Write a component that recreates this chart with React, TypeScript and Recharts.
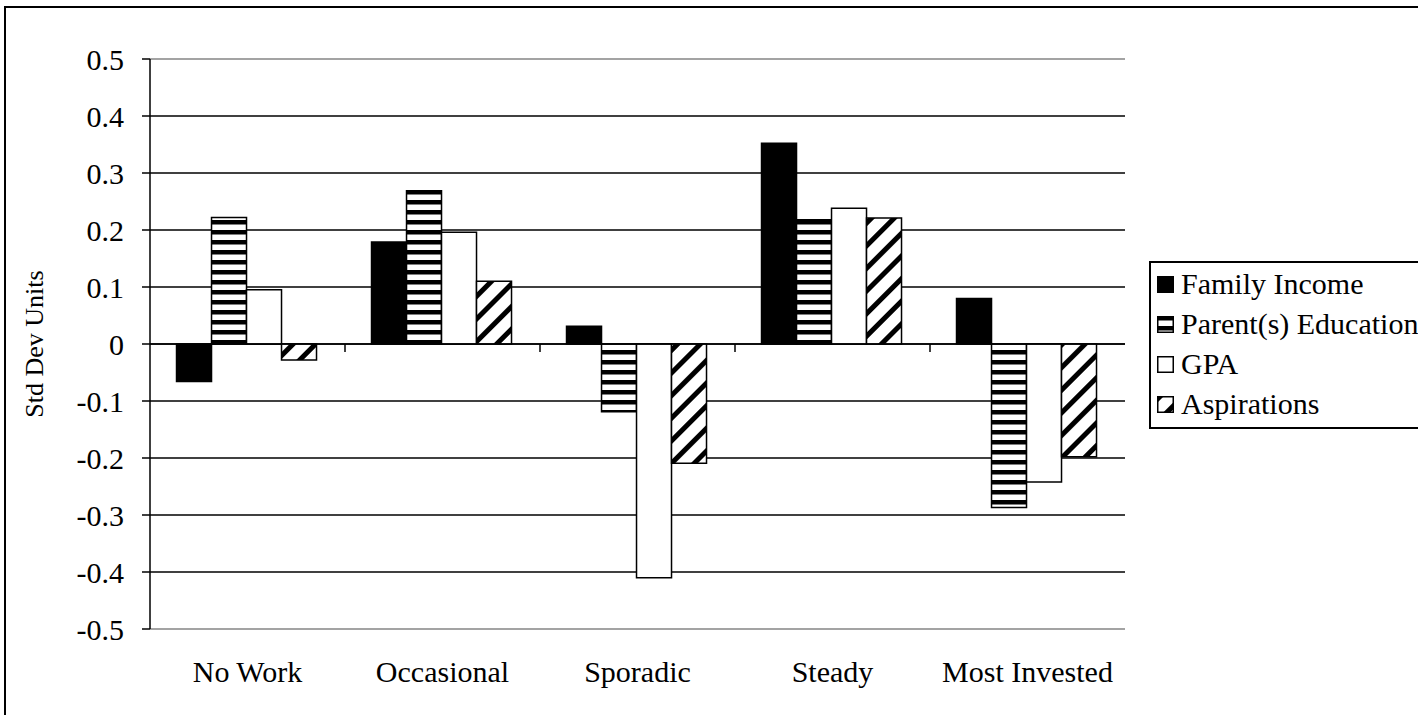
import React from 'react';
import { BarChart, Bar, XAxis, YAxis, CartesianGrid, Legend, ReferenceLine } from 'recharts';

const categories = ['No Work', 'Occasional', 'Sporadic', 'Steady', 'Most Invested'];
const familyIncome = [-0.066, 0.179, 0.031, 0.352, 0.08];
const parentEducation = [0.222, 0.269, -0.119, 0.218, -0.287];
const gpa = [0.095, 0.196, -0.41, 0.238, -0.242];
const aspirations = [-0.028, 0.11, -0.209, 0.221, -0.198];
const yTicks = [-0.5, -0.4, -0.3, -0.2, -0.1, 0, 0.1, 0.2, 0.3, 0.4, 0.5];
const seriesNames = ['Family Income', 'Parent(s) Education', 'GPA', 'Aspirations'];
const boundaryCategories = categories.slice(1);

const data = categories.map((c, i) => ({
  category: c,
  fi: familyIncome[i],
  pe: parentEducation[i],
  gpa: gpa[i],
  asp: aspirations[i],
}));

const FONT = '"Liberation Serif", "Times New Roman", serif';
const GRAY = '#858585';

const fills = ['#000000', 'url(#hstripe)', '#ffffff', 'url(#diag)'];
const keys = ['fi', 'pe', 'gpa', 'asp'];

function PatternDefs({ suffix }: { suffix: string }) {
  return (
    <defs>
      <pattern id={'hstripe' + suffix} patternUnits="userSpaceOnUse" width="10" height="10">
        <rect x="0" y="0" width="10" height="10" fill="#ffffff" />
        <rect x="0" y="0" width="10" height="4.5" fill="#000000" />
      </pattern>
      <pattern id={'diag' + suffix} patternUnits="userSpaceOnUse" width="16" height="16" patternTransform="rotate(45)">
        <rect x="0" y="0" width="16" height="16" fill="#ffffff" />
        <rect x="0" y="0" width="5" height="16" fill="#000000" />
      </pattern>
    </defs>
  );
}

function LegendBox() {
  return (
    <div
      style={{
        width: 300,
        height: 168,
        border: '2px solid #000',
        background: '#fff',
        boxSizing: 'border-box',
        paddingTop: 1,
        fontFamily: FONT,
        fontSize: 30,
        color: '#000',
      }}
    >
      {seriesNames.map((name, i) => (
        <div key={name} style={{ height: 40, display: 'flex', alignItems: 'center' }}>
          <svg width={17} height={17} style={{ marginLeft: 6, marginRight: 7, flex: 'none' }}>
            <PatternDefs suffix={'-lg' + i} />
            <rect
              x={0.75}
              y={0.75}
              width={15.5}
              height={15.5}
              fill={fills[i].startsWith('url') ? fills[i].replace(')', '-lg' + i + ')') : fills[i]}
              stroke="#000"
              strokeWidth={1.5}
            />
          </svg>
          <span style={{ whiteSpace: 'nowrap', lineHeight: '40px' }}>{name}</span>
        </div>
      ))}
    </div>
  );
}

function GridLine(p: any) {
  const top = p.y ?? p.offset?.top;
  const h = p.height ?? p.offset?.height;
  const edge = Math.abs(p.y1 - top) < 1 || Math.abs(p.y1 - (top + h)) < 1;
  return (
    <line
      key={p.key}
      x1={p.x1}
      y1={p.y1}
      x2={p.x2}
      y2={p.y2}
      stroke={edge ? GRAY : '#000'}
      strokeWidth={1.5}
    />
  );
}

export default function App() {
  return (
    <div
      style={{
        position: 'fixed',
        left: 0,
        top: 0,
        width: 1418,
        height: 715,
        overflow: 'hidden',
        background: '#fff',
      }}
    >
      <div
        style={{
          position: 'absolute',
          left: 4,
          top: 6,
          width: 1500,
          height: 800,
          border: '2px solid #000',
        }}
      />
      <div style={{ position: 'absolute', left: 0, top: 0 }}>
        <BarChart
          width={1418}
          height={715}
          data={data}
          margin={{ top: 59, right: 293, bottom: 26, left: 0 }}
          barCategoryGap="13.6%"
          barGap={0}
        >
          <PatternDefs suffix="" />
          <CartesianGrid vertical={false} horizontal={GridLine as any} />
          <XAxis
            dataKey="category"
            height={60}
            axisLine={false}
            tickLine={false}
            tickSize={0}
            tickMargin={32}
            interval={0}
            tick={{ fill: '#000', fontSize: 30, fontFamily: FONT }}
          />
          <YAxis
            width={150}
            domain={[-0.5, 0.5]}
            ticks={yTicks}
            interval={0}
            tickFormatter={(v: number) => (v === 0 ? '0' : v.toFixed(1))}
            axisLine={{ stroke: '#000', strokeWidth: 1.5 }}
            tickLine={{ stroke: '#000', strokeWidth: 1.5 }}
            tickSize={8}
            tickMargin={18}
            tick={{ fill: '#000', fontSize: 30, fontFamily: FONT }}
            label={{
              content: (props: any) => {
                const vb = props.viewBox || {};
                const cx = (vb.x ?? 0) + 34;
                const cy = (vb.y ?? 0) + (vb.height ?? 0) / 2;
                return (
                  <text
                    x={cx}
                    y={cy}
                    transform={`rotate(-90, ${cx}, ${cy})`}
                    textAnchor="middle"
                    dominantBaseline="central"
                    fontFamily={FONT}
                    fontSize={26}
                    fill="#000"
                  >
                    Std Dev Units
                  </text>
                );
              },
            }}
          />
          <YAxis
            yAxisId="right"
            orientation="right"
            width={0}
            domain={[-0.5, 0.5]}
            ticks={yTicks}
            tick={false}
            tickLine={false}
            axisLine={{ stroke: GRAY, strokeWidth: 1.5 }}
          />
          <ReferenceLine y={0} stroke="#000" strokeWidth={1.5} />
          {boundaryCategories.map((c) => (
            <ReferenceLine
              key={c}
              segment={[
                { x: c, y: 0 },
                { x: c, y: -0.014 },
              ]}
              position="start"
              stroke="#000"
              strokeWidth={1.5}
              ifOverflow="visible"
            />
          ))}
          {keys.map((k, i) => (
            <Bar
              key={k}
              dataKey={k}
              name={seriesNames[i]}
              fill={fills[i]}
              stroke="#000"
              strokeWidth={1.5}
              isAnimationActive={false}
            />
          ))}
          <Legend
            layout="vertical"
            align="center"
            verticalAlign="middle"
            wrapperStyle={{ left: 1149, top: 261, width: 300 }}
            content={() => <LegendBox />}
          />
        </BarChart>
      </div>
    </div>
  );
}
